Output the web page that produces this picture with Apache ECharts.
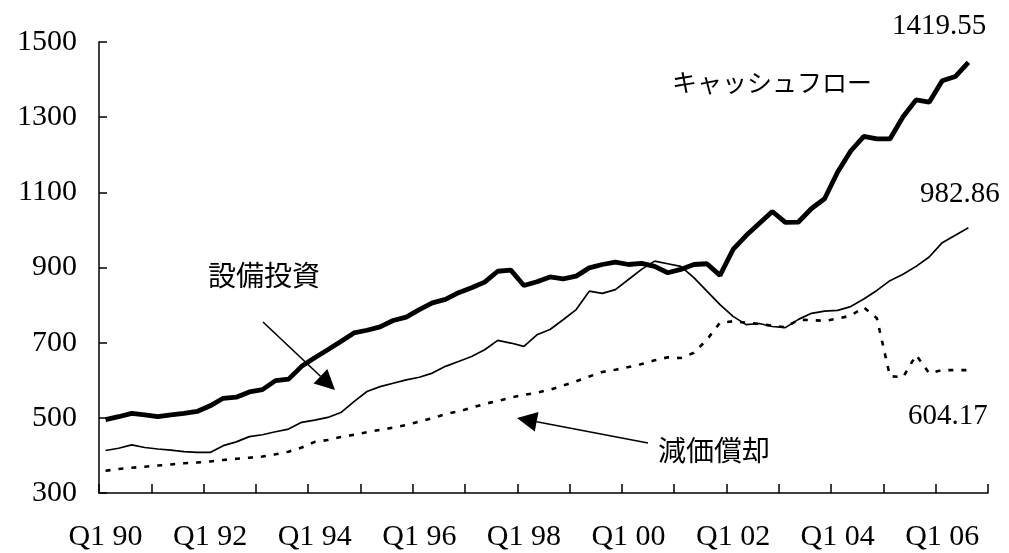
<!DOCTYPE html>
<html>
<head>
<meta charset="utf-8">
<script src="https://cdn.jsdelivr.net/npm/echarts@6/dist/echarts.min.js"></script>
<style>
    html, body { margin: 0; padding: 0; background: #fff; }
    #chart { width: 1009px; height: 553px; }
</style>
</head>
<body>
<div id="chart"></div>
<script>
const years = ["90", "91", "92", "93", "94", "95", "96", "97", "98", "99", "00", "01", "02", "03", "04", "05", "06"];
const quarters = ["Q1", "Q2", "Q3", "Q4"];

// キャッシュフロー (thick line)
const cashFlow = [
    495, 503, 512, 508, 503, 508, 512, 517, 532, 552, 555, 569, 575, 599, 603, 637,
    660, 681, 703, 726, 733, 742, 759, 768, 788, 806, 815, 833, 846, 861, 890, 893,
    852, 862, 875, 870, 877, 899, 908, 914, 908, 911, 903, 886, 895, 908, 910, 879,
    948, 985, 1017, 1049, 1020, 1021, 1057, 1083, 1154, 1210, 1249, 1242, 1242, 1301,
    1346, 1340, 1397, 1408, 1446, null
];

// 設備投資 (thin line)
const capex = [
    413, 419, 428, 421, 417, 414, 410, 408, 408, 426, 436, 450, 455, 463, 470, 488,
    494, 501, 514, 543, 570, 583, 592, 601, 608, 619, 637, 650, 663, 681, 706, 699,
    690, 721, 735, 761, 788, 837, 831, 841, 868, 895, 917, 910, 903, 873, 837, 801,
    770, 748, 751, 743, 740, 762, 778, 784, 786, 796, 816, 839, 865, 882,
    903, 928, 966, 986, 1006, null
];

// 減価償却 (dashed line)
const depreciation = [
    359, 364, 367, 370, 373, 376, 379, 381, 384, 388, 391, 394, 397, 403, 410, 421,
    436, 441, 449, 455, 462, 468, 474, 481, 490, 499, 510, 517, 527, 537, 545, 554,
    561, 567, 575, 586, 597, 610, 622, 628, 635, 643, 653, 661, 659, 673, 708, 753,
    757, 753, 750, 745, 741, 761, 760, 758, 764, 772, 794, 765, 611, 608,
    667, 619, 627, 627, 627, null
];

const categories = [];
years.forEach(y => quarters.forEach(q => categories.push(q + " " + y)));

const serif = '"Liberation Serif", "Times New Roman", serif';
const jp = '"Noto Sans CJK JP", sans-serif';

const chart = echarts.init(document.getElementById("chart"));

function label(text, x, y, font) {
    return {
        type: "text",
        x: x,
        y: y,
        style: {
            text: text,
            font: font,
            fill: "#000",
            align: "left",
            verticalAlign: "middle"
        }
    };
}

function arrow(x1, y1, x2, y2, headLen, headHalf) {
    const dx = x2 - x1, dy = y2 - y1;
    const len = Math.sqrt(dx * dx + dy * dy);
    const ux = dx / len, uy = dy / len;
    const bx = x2 - ux * headLen, by = y2 - uy * headLen;
    return [
        {
            type: "polyline",
            shape: { points: [[x1, y1], [bx, by]] },
            style: { stroke: "#000", lineWidth: 1.6, fill: null }
        },
        {
            type: "polygon",
            shape: {
                points: [
                    [x2, y2],
                    [bx - uy * headHalf, by + ux * headHalf],
                    [bx + uy * headHalf, by - ux * headHalf]
                ]
            },
            style: { fill: "#000" }
        }
    ];
}

const option = {
    backgroundColor: "#fff",
    animation: false,
    grid: { left: 99, right: 21, top: 42, bottom: 60 },
    xAxis: {
        type: "category",
        data: categories,
        boundaryGap: true,
        axisLine: { lineStyle: { color: "#000", width: 1.5 } },
        axisTick: {
            show: true,
            inside: true,
            alignWithLabel: false,
            interval: 3,
            length: 9,
            lineStyle: { color: "#000", width: 1.5 }
        },
        axisLabel: {
            interval: 7,
            color: "#000",
            fontFamily: serif,
            fontSize: 30,
            margin: 29
        },
        splitLine: { show: false }
    },
    yAxis: {
        type: "value",
        min: 300,
        max: 1500,
        interval: 200,
        axisLine: { show: true, lineStyle: { color: "#000", width: 1.5 } },
        axisTick: { show: true, inside: true, length: 8, lineStyle: { color: "#000", width: 1.5 } },
        axisLabel: {
            color: "#000",
            fontFamily: serif,
            fontSize: 30,
            margin: 22,
            formatter: v => String(v)
        },
        splitLine: { show: false }
    },
    series: [
        {
            name: "キャッシュフロー",
            type: "line",
            data: cashFlow,
            showSymbol: false,
            lineStyle: { color: "#000", width: 4.8 },
            z: 3
        },
        {
            name: "設備投資",
            type: "line",
            data: capex,
            showSymbol: false,
            lineStyle: { color: "#000", width: 1.7 },
            z: 2
        },
        {
            name: "減価償却",
            type: "line",
            data: depreciation,
            showSymbol: false,
            lineStyle: { color: "#000", width: 2.6, type: [5, 8] },
            z: 2
        }
    ],
    graphic: [
        label("1419.55", 892, 26, "29px " + serif),
        label("キャッシュフロー", 672, 82, "25px " + jp),
        label("982.86", 920, 194, "29px " + serif),
        label("604.17", 908, 416, "29px " + serif),
        label("設備投資", 208, 275, "28px " + jp),
        label("減価償却", 658, 450, "28px " + jp),
        ...arrow(263, 322, 335, 390, 20, 10),
        ...arrow(648, 443, 517, 418, 20, 10)
    ]
};

chart.setOption(option);
window.addEventListener("resize", () => chart.resize());
</script>
</body>
</html>
